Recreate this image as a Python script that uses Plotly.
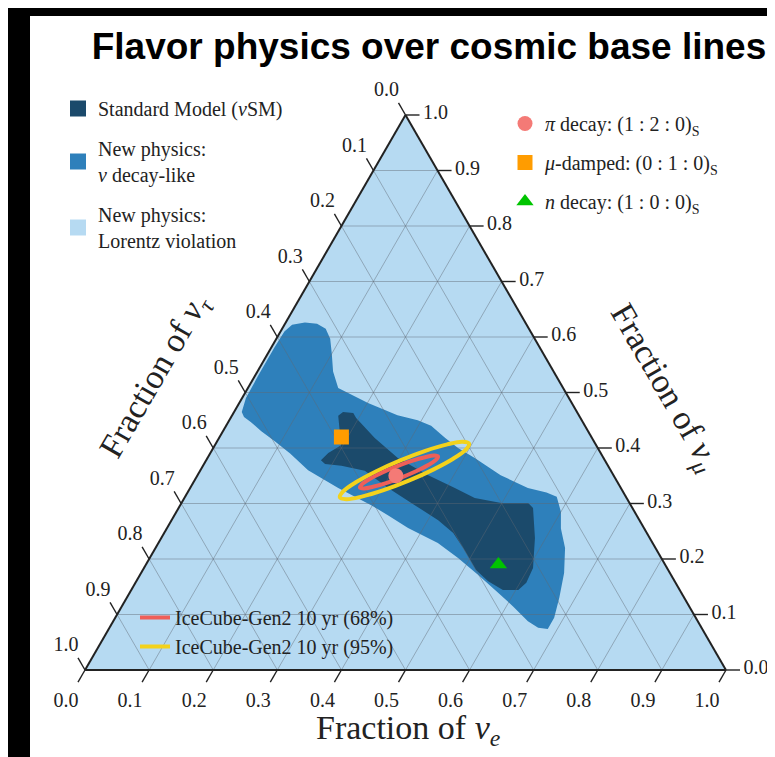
import plotly.graph_objects as go

# ---------------- data ----------------
TICKS = [0.0, 0.1, 0.2, 0.3, 0.4, 0.5, 0.6, 0.7, 0.8, 0.9, 1.0]
TICK_TEXT = ["0.0", "0.1", "0.2", "0.3", "0.4", "0.5", "0.6", "0.7", "0.8", "0.9", "1.0"]

# Lorentz violation: whole triangle (nu_e, nu_mu)
LV_E = [0.0, 1.0, 0.0, 0.0]
LV_MU = [0.0, 0.0, 1.0, 0.0]

# New physics: nu decay-like region outline (nu_e, nu_mu)
ND_E = [0.012, 0.006, 0.005, 0.005, 0.006, 0.012, 0.030, 0.050, 0.068, 0.084, 0.100, 0.118,
        0.141, 0.201, 0.258, 0.294, 0.320, 0.353, 0.382, 0.417, 0.473, 0.527, 0.560, 0.580,
        0.600, 0.615, 0.639, 0.660, 0.675, 0.685, 0.685, 0.669, 0.647, 0.610, 0.575, 0.528,
        0.481, 0.436, 0.376, 0.333, 0.298, 0.231, 0.168, 0.125, 0.090, 0.060, 0.035, 0.020]
ND_MU = [0.465, 0.490, 0.530, 0.580, 0.610, 0.622, 0.626, 0.624, 0.615, 0.597, 0.570, 0.538,
         0.508, 0.481, 0.459, 0.450, 0.440, 0.418, 0.400, 0.382, 0.351, 0.328, 0.320, 0.312,
         0.285, 0.255, 0.220, 0.175, 0.130, 0.094, 0.074, 0.076, 0.088, 0.115, 0.139, 0.171,
         0.202, 0.229, 0.256, 0.279, 0.297, 0.328, 0.360, 0.390, 0.412, 0.430, 0.447, 0.456]

# Standard Model region outline (nu_e, nu_mu)
SM_E = [0.166, 0.170, 0.187, 0.196, 0.243, 0.297, 0.360, 0.413, 0.453, 0.499, 0.541, 0.553,
        0.583, 0.607, 0.610, 0.604, 0.580, 0.549, 0.520, 0.480, 0.451, 0.416, 0.366, 0.309,
        0.257, 0.216, 0.189, 0.179, 0.184, 0.197]
SM_MU = [0.458, 0.465, 0.463, 0.454, 0.418, 0.382, 0.351, 0.328, 0.310, 0.301, 0.301, 0.292,
         0.238, 0.184, 0.157, 0.144, 0.144, 0.160, 0.180, 0.220, 0.247, 0.270, 0.297, 0.328,
         0.359, 0.368, 0.371, 0.378, 0.391, 0.405]

# IceCube-Gen2 contours (nu_e, nu_mu)
C95_E = [0.3345, 0.3038, 0.2756, 0.2539, 0.2419, 0.2418, 0.2534, 0.2748, 0.3030, 0.3335,
         0.3620, 0.3836, 0.3955, 0.3956, 0.3840, 0.3626, 0.3345]
C95_MU = [0.3411, 0.3240, 0.3124, 0.3077, 0.3112, 0.3218, 0.3382, 0.3578, 0.3778, 0.3950,
          0.4065, 0.4112, 0.4077, 0.3971, 0.3807, 0.3611, 0.3411]
C68_E = [0.3200, 0.3013, 0.2841, 0.2713, 0.2644, 0.2648, 0.2721, 0.2855, 0.3030, 0.3216,
         0.3389, 0.3517, 0.3586, 0.3581, 0.3508, 0.3374, 0.3200]
C68_MU = [0.3467, 0.3368, 0.3301, 0.3272, 0.3290, 0.3350, 0.3443, 0.3555, 0.3668, 0.3768,
          0.3834, 0.3863, 0.3845, 0.3786, 0.3692, 0.3580, 0.3467]

# sources (flavor ratios at Earth)
SRC_NAMES = ["<i>π</i> decay: (1 : 2 : 0)<sub>S</sub>",
             "<i>μ</i>-damped: (0 : 1 : 0)<sub>S</sub>",
             "<i>n</i> decay: (1 : 0 : 0)<sub>S</sub>"]
SRC_E = [0.31, 0.19, 0.55]
SRC_MU = [0.35, 0.42, 0.19]
SRC_SYMBOL = ["circle", "square", "triangle-up"]
SRC_COLOR = ["#f47a76", "#ff9c00", "#00c400"]

REGION_NAMES = ["Standard Model (<i>ν</i>SM)", "New physics:<br><i>ν</i> decay-like",
                "New physics:<br>Lorentz violation"]
REGION_COLORS = ["#1b4a6b", "#2e80bb", "#b6daf2"]

SERIF = "Liberation Serif"
INK = "#222222"

# ---------------- geometry (pixels of the 775x757 page) ----------------
FIG_W, FIG_H = 775, 757
TRI_L, TRI_R, TRI_TOP, TRI_BOT = 77.0, 718.0, 107.0, 662.0
TRI_W = TRI_R - TRI_L
TRI_H = TRI_BOT - TRI_TOP


def tau(e, mu):
    return [round(1 - x - y, 4) for x, y in zip(e, mu)]


def to_xy(e, mu):
    """ternary (nu_e, nu_mu) -> overlay cartesian units (triangle width = height = 1)"""
    return e + mu / 2.0, mu


fig = go.Figure()

# regions
for e, mu, col in [(LV_E, LV_MU, REGION_COLORS[2]), (ND_E, ND_MU, REGION_COLORS[1]),
                   (SM_E, SM_MU, REGION_COLORS[0])]:
    fig.add_trace(go.Scatterternary(a=mu, b=tau(e, mu), c=e, mode="lines", fill="toself",
                                    fillcolor=col, line=dict(width=0, color=col),
                                    showlegend=False, hoverinfo="skip"))

# grid lines
ga, gb, gc = [], [], []
for k in TICKS[1:-1]:
    ga += [k, k, None]; gb += [1 - k, 0, None]; gc += [0, 1 - k, None]
    ga += [1 - k, 0, None]; gb += [k, k, None]; gc += [0, 1 - k, None]
    ga += [1 - k, 0, None]; gb += [0, 1 - k, None]; gc += [k, k, None]
fig.add_trace(go.Scatterternary(a=ga, b=gb, c=gc, mode="lines",
                                line=dict(color="rgba(95,105,115,0.45)", width=1),
                                showlegend=False, hoverinfo="skip", connectgaps=False))

# contours
fig.add_trace(go.Scatterternary(a=C95_MU, b=tau(C95_E, C95_MU), c=C95_E, mode="lines",
                                line=dict(color="#f3d21c", width=4, shape="spline"),
                                name="IceCube-Gen2 10 yr (95%)", legend="legend3",
                                legendrank=2, hoverinfo="skip"))
fig.add_trace(go.Scatterternary(a=C68_MU, b=tau(C68_E, C68_MU), c=C68_E, mode="lines",
                                line=dict(color="#ee5f58", width=4, shape="spline"),
                                name="IceCube-Gen2 10 yr (68%)", legend="legend3",
                                legendrank=1, hoverinfo="skip"))

# sources
for i in range(3):
    fig.add_trace(go.Scatterternary(a=[SRC_MU[i]], b=tau([SRC_E[i]], [SRC_MU[i]]), c=[SRC_E[i]],
                                    mode="markers", name=SRC_NAMES[i], legend="legend2",
                                    legendgroup="s%d" % i,
                                    marker=dict(symbol=SRC_SYMBOL[i], size=15,
                                                color=SRC_COLOR[i])))

# legend entries for regions
for i in range(3):
    fig.add_trace(go.Scatterternary(a=[None], b=[None], c=[None], mode="markers",
                                    name=REGION_NAMES[i], legend="legend",
                                    legendgroup="r%d" % i,
                                    marker=dict(symbol="square", size=17,
                                                color=REGION_COLORS[i])))

# ---- ticks and tick labels (counter-clockwise reading), drawn on a hidden overlay axis ----
px_x = 1.0 / TRI_W   # overlay units per pixel
px_y = 1.0 / TRI_H
TICK_LEN = 14
tx, ty = [], []
lx, ly, lt = [], [], []
for v, t in zip(TICKS, TICK_TEXT):
    # bottom axis: nu_e
    x0, y0 = to_xy(v, 0.0)
    tx += [x0, x0 - 0.5 * TICK_LEN * px_x, None]
    ty += [y0, y0 - 0.866 * TICK_LEN * px_y, None]
    lx.append(x0 - 19 * px_x); ly.append(y0 - 32 * px_y); lt.append(t)
    # left axis: nu_tau (nu_e = 0, nu_mu = 1 - v)
    x0, y0 = to_xy(0.0, 1 - v)
    tx += [x0, x0 - 0.5 * TICK_LEN * px_x, None]
    ty += [y0, y0 + 0.866 * TICK_LEN * px_y, None]
    lx.append(x0 - 19 * px_x); ly.append(y0 + 24 * px_y); lt.append(t)
    # right axis: nu_mu (nu_tau = 0)
    x0, y0 = to_xy(1 - v, v)
    tx += [x0, x0 + TICK_LEN * px_x, None]
    ty += [y0, y0, None]
    lx.append(x0 + 30 * px_x); ly.append(y0 + 1 * px_y); lt.append(t)

fig.add_trace(go.Scatter(x=tx, y=ty, mode="lines", line=dict(color=INK, width=1.4),
                         xaxis="x", yaxis="y", showlegend=False, hoverinfo="skip",
                         cliponaxis=False))
fig.add_trace(go.Scatter(x=lx, y=ly, mode="text", text=lt, textposition="middle center",
                         textfont=dict(family=SERIF, size=20, color=INK),
                         xaxis="x", yaxis="y", showlegend=False, hoverinfo="skip",
                         cliponaxis=False))

axis_style = dict(showticklabels=False, ticks="", showgrid=False, showline=True,
                  linecolor=INK, linewidth=2, title=dict(text=""), min=0)
hidden = dict(visible=False, showgrid=False, zeroline=False, fixedrange=True)
title_font = dict(family=SERIF, size=34, color=INK)

fig.update_layout(
    width=FIG_W, height=FIG_H,
    margin=dict(l=0, r=0, t=0, b=0, autoexpand=False),
    paper_bgcolor="black", plot_bgcolor="rgba(0,0,0,0)",
    xaxis=dict(hidden, domain=[0, 1], range=[-TRI_L / TRI_W, (FIG_W - TRI_L) / TRI_W]),
    yaxis=dict(hidden, domain=[0, 1], range=[-(FIG_H - TRI_BOT) / TRI_H, TRI_BOT / TRI_H]),
    ternary=dict(sum=1, bgcolor=REGION_COLORS[2], aaxis=axis_style, baxis=axis_style,
                 caxis=axis_style,
                 domain=dict(x=[TRI_L / FIG_W, TRI_R / FIG_W],
                             y=[1 - TRI_BOT / FIG_H, 1 - TRI_TOP / FIG_H])),
    title=dict(text="<b>Flavor physics over cosmic base lines</b>",
               font=dict(family="Liberation Sans", size=37, color="black"),
               x=421 / FIG_W, xanchor="center", y=1 - 38 / FIG_H, yanchor="middle",
               xref="container", yref="container"),
    shapes=[dict(type="rect", xref="paper", yref="paper", x0=22 / FIG_W, x1=772 / FIG_W,
                 y0=-0.05, y1=1 - 8 / FIG_H, fillcolor="white", line=dict(width=0),
                 layer="below")],
    legend=dict(x=50 / FIG_W, y=1 - 81 / FIG_H, xanchor="left", yanchor="top",
                bgcolor="rgba(0,0,0,0)", font=dict(family=SERIF, size=20, color=INK),
                tracegroupgap=11, traceorder="grouped", itemclick=False),
    legend2=dict(x=497 / FIG_W, y=1 - 96 / FIG_H, xanchor="left", yanchor="top",
                 bgcolor="rgba(0,0,0,0)", font=dict(family=SERIF, size=20, color=INK),
                 tracegroupgap=10, traceorder="grouped", itemclick=False),
    legend3=dict(x=127 / FIG_W, y=1 - 590 / FIG_H, xanchor="left", yanchor="top",
                 bgcolor="rgba(0,0,0,0)", font=dict(family=SERIF, size=20, color=INK),
                 traceorder="normal", itemclick=False),
    annotations=[
        dict(text="Fraction of <i>ν<sub>e</sub></i>", xref="paper", yref="paper",
             x=400 / FIG_W, y=1 - 722 / FIG_H, xanchor="center", yanchor="middle",
             showarrow=False, font=title_font),
        dict(text="Fraction of <i>ν<sub>τ</sub></i>", xref="paper", yref="paper",
             x=148 / FIG_W, y=1 - 368 / FIG_H, xanchor="center", yanchor="middle",
             showarrow=False, textangle=-60, font=title_font),
        dict(text="Fraction of <i>ν<sub>μ</sub></i>", xref="paper", yref="paper",
             x=656 / FIG_W, y=1 - 380 / FIG_H, xanchor="center", yanchor="middle",
             showarrow=False, textangle=60, font=title_font),
    ],
)

fig.write_html("out.html")
